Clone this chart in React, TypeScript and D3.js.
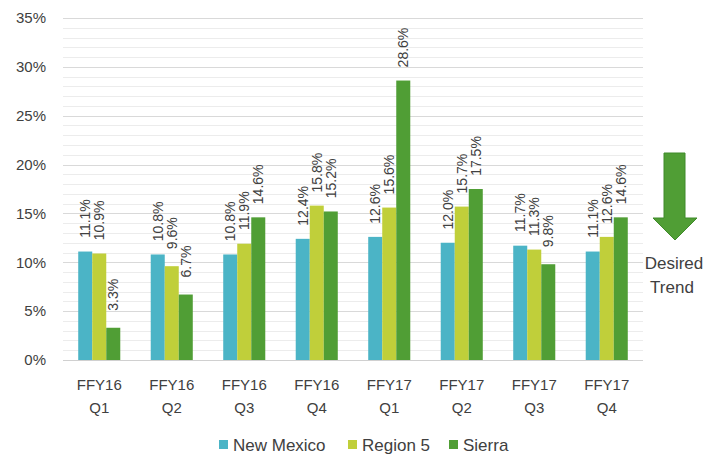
import React from "react";
import * as d3 from "d3";

const categories = ["FFY16|Q1", "FFY16|Q2", "FFY16|Q3", "FFY16|Q4", "FFY17|Q1", "FFY17|Q2", "FFY17|Q3", "FFY17|Q4"];
const seriesNames = ["New Mexico", "Region 5", "Sierra"];
const newMexico = [11.1, 10.8, 10.8, 12.4, 12.6, 12.0, 11.7, 11.1];
const region5 = [10.9, 9.6, 11.9, 15.8, 15.6, 15.7, 11.3, 12.6];
const sierra = [3.3, 6.7, 14.6, 15.2, 28.6, 17.5, 9.8, 14.6];
const yTicks = [0, 5, 10, 15, 20, 25, 30, 35];
const minorTicks = d3.range(0, 36, 1);
const colors = ["#4bb4c6", "#c0cf3a", "#509e35"];

const W = 719, H = 455;
const left = 63, right = 643, top = 18, bottom = 360;
const font = "'Liberation Sans', Arial, sans-serif";

export default function App() {
  const series = [newMexico, region5, sierra];
  const x = d3.scaleBand().domain(categories).range([left, right]).paddingInner(0.42).paddingOuter(0.21);
  const xs = d3.scaleBand().domain(seriesNames).range([0, x.bandwidth()]);
  const y = d3.scaleLinear().domain([0, 35]).range([bottom, top]);

  const legendItems = [
    { name: seriesNames[0], x: 219 },
    { name: seriesNames[1], x: 348 },
    { name: seriesNames[2], x: 449 },
  ];

  return (
    <svg width={W} height={H} style={{ position: "absolute", left: 0, top: 0, background: "#fff" }} fontFamily={font}>
      <rect width={W} height={H} fill="#fff" />
      {minorTicks.filter((t) => t % 5 !== 0).map((t) => (
        <line key={"m" + t} x1={left} x2={right} y1={Math.round(y(t)) + 0.5} y2={Math.round(y(t)) + 0.5} stroke="#ececec" strokeWidth={1} />
      ))}
      {yTicks.map((t) => (
        <g key={"t" + t}>
          <line x1={left} x2={right} y1={Math.round(y(t)) + 0.5} y2={Math.round(y(t)) + 0.5} stroke={t === 0 ? "#d0d0d0" : "#d9d9d9"} strokeWidth={1} />
          <text x={46} y={y(t)} dy="0.35em" textAnchor="end" fontSize={15} fill="#404040">{t + "%"}</text>
        </g>
      ))}
      {categories.map((c, i) => (
        <g key={c}>
          {series.map((s, j) => {
            const bx = (x(c) as number) + (xs(seriesNames[j]) as number);
            const bw = xs.bandwidth();
            const v = s[i];
            const cx = bx + bw / 2;
            const ly = y(v) - 33;
            return (
              <g key={j}>
                <rect x={bx} y={y(v)} width={bw} height={bottom - y(v)} fill={colors[j]} />
                <text transform={`translate(${cx + 5},${ly}) rotate(-90)`} textAnchor="middle" fontSize={14} fill="#404040">{v.toFixed(1) + "%"}</text>
              </g>
            );
          })}
          {c.split("|").map((part, k) => (
            <text key={k} x={(x(c) as number) + x.bandwidth() / 2} y={390 + k * 23} textAnchor="middle" fontSize={15} fill="#404040">{part}</text>
          ))}
        </g>
      ))}
      {legendItems.map((it, j) => (
        <g key={it.name}>
          <rect x={it.x} y={440} width={9} height={9} fill={colors[j]} />
          <text x={it.x + 14} y={445} dy="0.35em" fontSize={17} fill="#404040">{it.name}</text>
        </g>
      ))}
      <path d="M664,153 L685,153 L685,218 L697,218 L675,240 L653,218 L664,218 Z" fill="#509e35" stroke="#3f8a2a" strokeWidth={1} />
      <text x={674} y={269} textAnchor="middle" fontSize={17} fill="#404040">Desired</text>
      <text x={672} y={293} textAnchor="middle" fontSize={17} fill="#404040">Trend</text>
    </svg>
  );
}
